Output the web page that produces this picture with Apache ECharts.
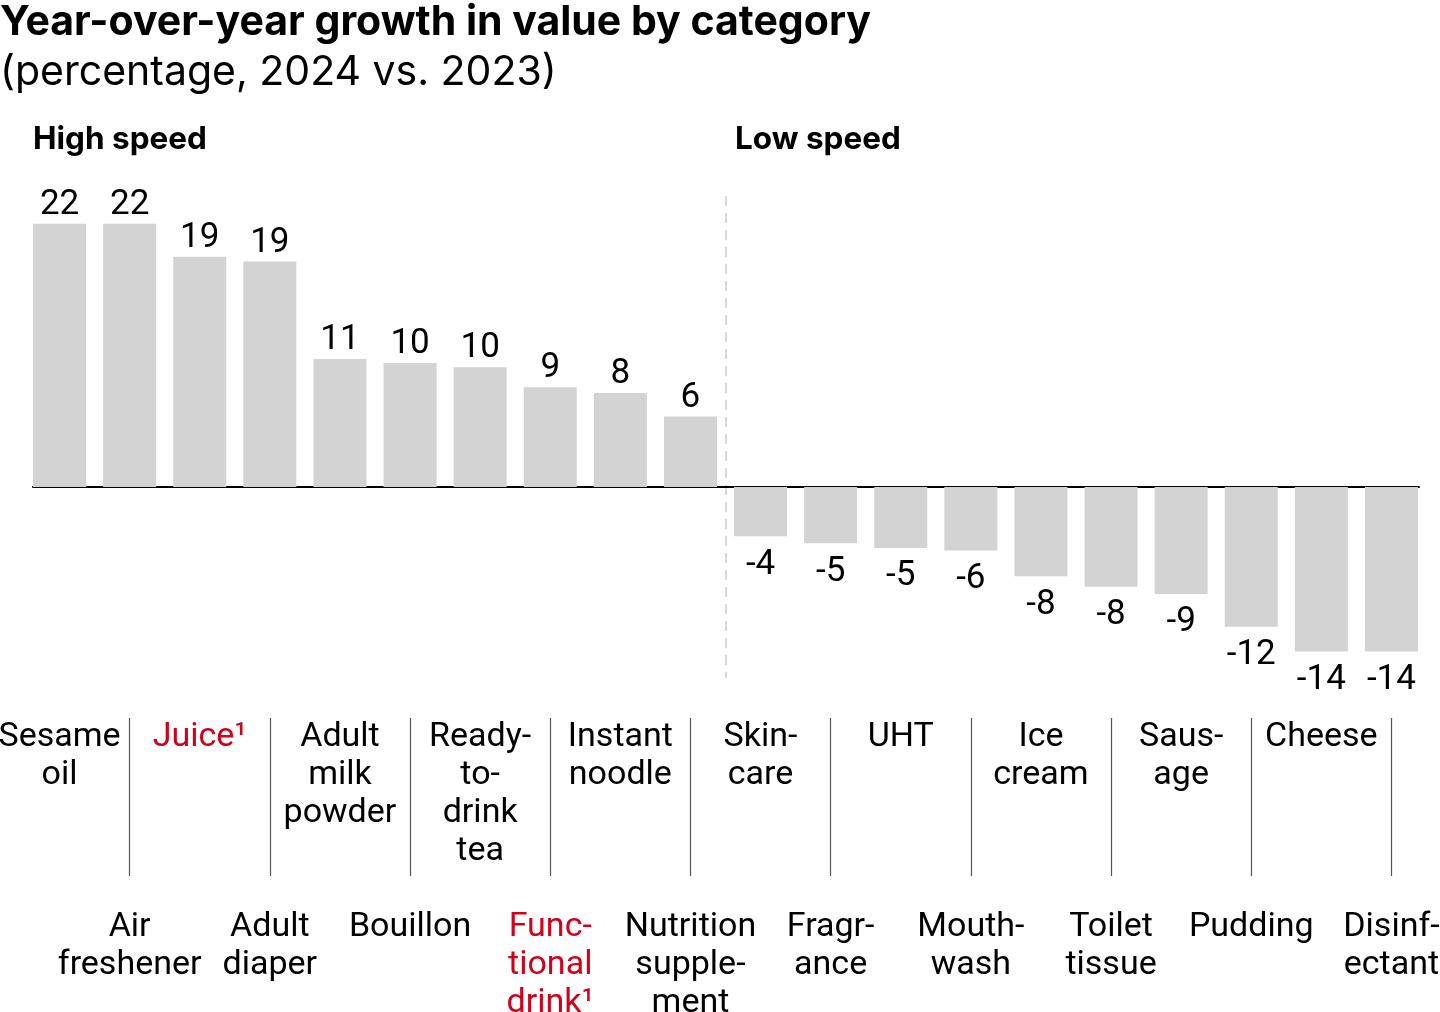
<!DOCTYPE html>
<html>
<head>
<meta charset="utf-8">
<script src="https://cdn.jsdelivr.net/npm/echarts@6/dist/echarts.min.js"></script>
<style>
html,body{margin:0;padding:0;background:#fff;}
#chart{width:1440px;height:1012px;}
</style>
</head>
<body>
<div id="chart"></div>
<script>
const categories = [
  "Sesame\noil", "Air\nfreshener", "Juice¹", "Adult\ndiaper", "Adult\nmilk\npowder",
  "Bouillon", "Ready-\nto-\ndrink\ntea", "Func-\ntional\ndrink¹", "Instant\nnoodle", "Nutrition\nsupple-\nment",
  "Skin-\ncare", "Fragr-\nance", "UHT", "Mouth-\nwash", "Ice\ncream",
  "Toilet\ntissue", "Saus-\nage", "Pudding", "Cheese", "Disinf-\nectant"
];
const highlighted = [false,false,true,false,false,false,false,true,false,false,false,false,false,false,false,false,false,false,false,false];
const growthValues = [22.4, 22.4, 19.6, 19.2, 10.9, 10.55, 10.2, 8.5, 8.0, 6.0,
  -4.2, -4.8, -5.2, -5.4, -7.6, -8.5, -9.1, -11.9, -14.0, -14.0];
const valueLabels = ["22","22","19","19","11","10","10","9","8","6",
  "-4","-5","-5","-6","-8","-8","-9","-12","-14","-14"];
const groupTitles = ["High speed", "Low speed"];
const splitIndex = 10;
const yMin = -16.26, yMax = 24.77;

const FONT = "Roboto";
const HEAD = "Inter";
const TEXT = "#000000";
const RED = "#d0021b";

function catLabel(i) {
  const t = categories[i];
  if (highlighted[i]) {
    return t.split("\n").map(l => "{r|" + l + "}").join("\n");
  }
  return t;
}

const labelStyle = {
  fontFamily: FONT, fontSize: 34, lineHeight: 38, color: TEXT,
  rich: { r: { fontFamily: FONT, fontSize: 34, lineHeight: 38, color: RED } }
};

const chart = echarts.init(document.getElementById("chart"), null, {renderer: "canvas"});
chart.setOption({
  animation: false,
  backgroundColor: "#ffffff",
  title: [
    { text: "Year-over-year growth in value by category", left: 0, top: 1,
      textStyle: { fontFamily: HEAD, fontWeight: "bold", fontSize: 41, lineHeight: 44, color: TEXT }, padding: 0 },
    { text: "(percentage, 2024 vs. 2023)", left: 0, top: 51,
      textStyle: { fontFamily: HEAD, fontWeight: "normal", fontSize: 41, lineHeight: 44, color: TEXT }, padding: 0 },
    { text: groupTitles[0], left: 33, top: 123,
      textStyle: { fontFamily: HEAD, fontWeight: "bold", fontSize: 31.5, lineHeight: 34, color: TEXT }, padding: 0 },
    { text: groupTitles[1], left: 735, top: 123,
      textStyle: { fontFamily: HEAD, fontWeight: "bold", fontSize: 31.5, lineHeight: 34, color: TEXT }, padding: 0 }
  ],
  grid: [
    { left: 24.5, right: 13.5, top: 196, bottom: 334, outerBoundsMode: "none", containLabel: false },
    { left: 33, right: 21, top: 196, bottom: 334, outerBoundsMode: "none", containLabel: false }
  ],
  xAxis: [
    {
      type: "category", data: categories, position: "bottom", gridIndex: 0,
      axisLine: { show: false },
      axisTick: { show: false }, axisLabel: { show: false },
      splitLine: { show: true, interval: function (i) { return i === 0 || i === splitIndex; },
        lineStyle: { color: ["rgba(0,0,0,0)", "#cccccc"], width: 1.5, type: [10, 7] } }
    },
    {
      type: "category", data: categories, position: "bottom", offset: 2, gridIndex: 0,
      axisLine: { show: false, onZero: false }, axisTick: { show: false }, splitLine: { show: false },
      axisLabel: Object.assign({
        show: true, interval: 0, margin: 38, hideOverlap: false,
        formatter: function (v, i) { return i % 2 === 0 ? catLabel(i) : ""; }
      }, labelStyle)
    },
    {
      type: "category", data: categories, position: "bottom", offset: 40, gridIndex: 0,
      axisLine: { show: false, onZero: false }, splitLine: { show: false },
      axisTick: { show: true, alignWithLabel: true, length: 158,
        interval: function (i) { return i % 2 === 1; },
        lineStyle: { color: "#555555", width: 1.2 } },
      axisLabel: Object.assign({
        show: true, interval: 0, margin: 190, hideOverlap: false,
        formatter: function (v, i) { return i % 2 === 1 ? catLabel(i) : ""; }
      }, labelStyle)
    },
    {
      type: "value", gridIndex: 1, min: 0, max: 1, position: "bottom",
      axisLine: { show: true, onZero: true, lineStyle: { color: "#000", width: 2 } },
      axisTick: { show: false }, axisLabel: { show: false }, splitLine: { show: false }
    }
  ],
  yAxis: [
    { type: "value", gridIndex: 0, min: yMin, max: yMax, show: false, splitLine: { show: false } },
    { type: "value", gridIndex: 1, min: yMin, max: yMax, axisLine: { show: false }, axisTick: { show: false },
      axisLabel: { show: false }, splitLine: { show: false } }
  ],
  series: [{
    type: "bar", xAxisIndex: 0, yAxisIndex: 0, barWidth: 53, z: 1,
    itemStyle: { color: "#d3d3d3" },
    data: growthValues.map((v, i) => ({
      value: v,
      label: {
        show: true,
        position: v >= 0 ? "top" : "bottom",
        distance: v >= 0 ? 1 : 11,
        formatter: valueLabels[i],
        fontFamily: FONT, fontSize: 35, color: TEXT
      }
    }))
  }]
});
</script>
</body>
</html>
